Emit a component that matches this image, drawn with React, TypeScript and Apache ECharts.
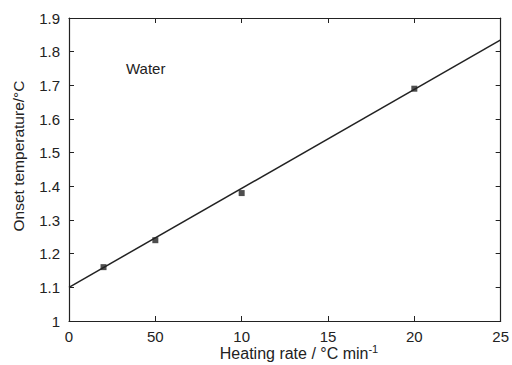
import React, { useEffect, useRef } from "react";
import * as echarts from "echarts";

const xTickValues = [0, 5, 10, 15, 20, 25];
const xTickLabels = ["0", "50", "10", "15", "20", "25"];
const heatingRate = [2, 5, 10, 20];
const onsetTemp = [1.16, 1.24, 1.38, 1.69];
const fitX = [0, 25];
const fitY = [1.1, 1.835];

export default function App() {
  const ref = useRef<HTMLDivElement>(null);
  useEffect(() => {
    const chart = echarts.init(ref.current!, null, { renderer: "svg" });
    const font = "Liberation Sans, Arial, sans-serif";
    const axisCommon = {
      axisLine: { show: true, onZero: false, lineStyle: { color: "#222", width: 1.2 } },
      axisTick: { show: true, inside: true, length: 5, lineStyle: { color: "#222" } },
      splitLine: { show: false },
    };
    chart.setOption({
      animation: false,
      backgroundColor: "#fff",
      grid: { left: 69, right: 9, top: 18, bottom: 44 },
      xAxis: [
        {
          type: "value",
          min: 0,
          max: 25,
          interval: 5,
          ...axisCommon,
          axisLabel: {
            color: "#222",
            fontFamily: font,
            fontSize: 15,
            margin: 8,
            formatter: (v: number) => {
              const i = xTickValues.indexOf(v);
              return i >= 0 ? xTickLabels[i] : "";
            },
          },
        },
        {
          type: "value",
          position: "top",
          min: 0,
          max: 25,
          interval: 5,
          ...axisCommon,
          axisLabel: { show: false },
        },
      ],
      yAxis: [
        {
          type: "value",
          min: 1,
          max: 1.9,
          interval: 0.1,
          ...axisCommon,
          axisLabel: {
            color: "#222",
            fontFamily: font,
            fontSize: 15,
            margin: 9,
            formatter: (v: number) => String(Math.round(v * 10) / 10),
          },
        },
        {
          type: "value",
          position: "right",
          min: 1,
          max: 1.9,
          interval: 0.1,
          ...axisCommon,
          axisLabel: { show: false },
        },
      ],
      graphic: [
        {
          type: "text",
          left: 126,
          top: 61,
          style: { text: "Water", fontFamily: font, fontSize: 15, fill: "#222" },
        },
        {
          type: "text",
          x: 299,
          y: 353,
          style: {
            text: "Heating rate / °C min{sup|-1}",
            fontFamily: font,
            fontSize: 16,
            fill: "#222",
            align: "center",
            verticalAlign: "middle",
            rich: {
              sup: { fontSize: 11, fontFamily: font, fill: "#222", padding: [0, 0, 9, 0] },
            },
          },
        },
        {
          type: "text",
          x: 18,
          y: 156,
          rotation: Math.PI / 2,
          style: {
            text: "Onset temperature/°C",
            fontFamily: font,
            fontSize: 15.5,
            fill: "#222",
            align: "center",
            verticalAlign: "middle",
          },
        },
      ],
      series: [
        {
          type: "line",
          data: fitX.map((x, i) => [x, fitY[i]]),
          showSymbol: false,
          lineStyle: { color: "#222", width: 1.5 },
          z: 2,
        },
        {
          type: "scatter",
          data: heatingRate.map((x, i) => [x, onsetTemp[i]]),
          symbol: "rect",
          symbolSize: 6,
          itemStyle: { color: "#222" },
          z: 3,
        },
      ],
    });
    return () => chart.dispose();
  }, []);
  return <div ref={ref} style={{ width: 512, height: 365, position: "absolute", left: 0, top: 0 }} />;
}
